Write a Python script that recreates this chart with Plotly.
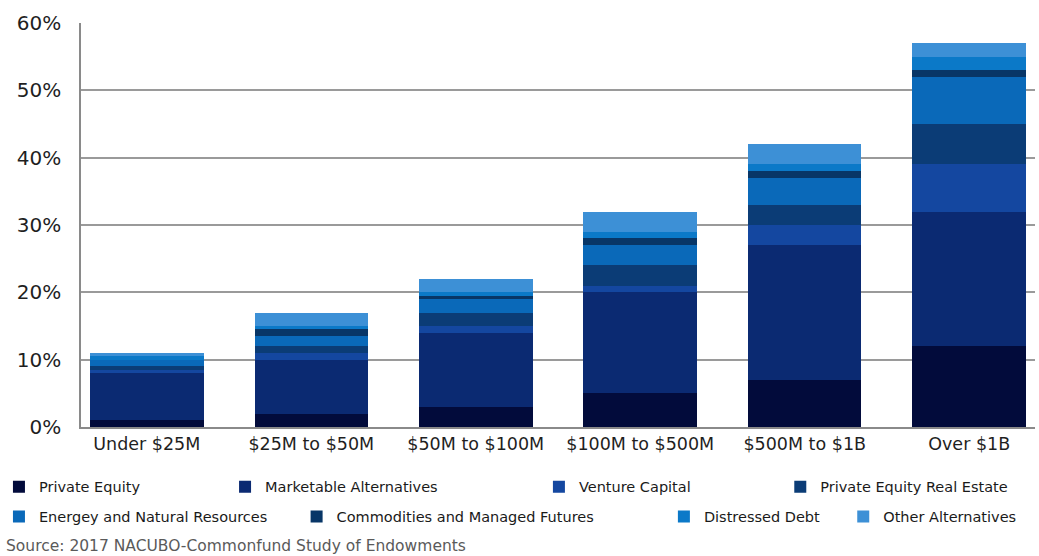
import plotly.graph_objects as go

# Endowment allocation to alternative strategies, by endowment size (percent of portfolio)
categories = ["Under $25M", "$25M to $50M", "$50M to $100M",
              "$100M to $500M", "$500M to $1B", "Over $1B"]

private_equity = [1, 2, 3, 5, 7, 12]
marketable_alternatives = [7, 8, 11, 15, 20, 20]
venture_capital = [0.5, 1, 1, 1, 3, 7]
private_equity_real_estate = [0.5, 1, 2, 3, 3, 6]
energy_natural_resources = [1, 1.5, 2, 3, 4, 7]
commodities_managed_futures = [0, 1, 0.5, 1, 1, 1]
distressed_debt = [0.5, 0.5, 0.5, 1, 1, 2]
other_alternatives = [0.5, 2, 2, 3, 3, 2]

series_names = ["Private Equity", "Marketable Alternatives", "Venture Capital",
                "Private Equity Real Estate", "Energey and Natural Resources",
                "Commodities and Managed Futures", "Distressed Debt",
                "Other Alternatives"]
series_values = [private_equity, marketable_alternatives, venture_capital,
                 private_equity_real_estate, energy_natural_resources,
                 commodities_managed_futures, distressed_debt, other_alternatives]

colors = ["#020b3b", "#0b2a72", "#1447a0", "#0b3c76",
          "#0a69b9", "#083667", "#0b79c8", "#3d90d6"]

# legend slot positions (paper coords) – two rows of four, spread across the width
ROW1, ROW2 = -0.148, -0.222
legend_pos = [(-0.086, ROW1), (0.151, ROW1), (0.480, ROW1), (0.733, ROW1),
              (-0.086, ROW2), (0.226, ROW2), (0.611, ROW2), (0.799, ROW2)]

FONT = "DejaVu Sans"
fig = go.Figure()
for i, (name, vals, col) in enumerate(zip(series_names, series_values, colors)):
    lg = "legend" if i == 0 else f"legend{i + 1}"
    fig.add_trace(go.Bar(
        x=list(range(len(categories))), y=vals, name=name,
        marker=dict(color=col, line=dict(width=0)),
        width=0.69, legend=lg,
    ))

layout_legends = {}
for i, (lx, ly) in enumerate(legend_pos):
    key = "legend" if i == 0 else f"legend{i + 1}"
    layout_legends[key] = dict(
        x=lx, y=ly, xanchor="left", yanchor="middle", orientation="h",
        font=dict(family=FONT, size=14.5, color="#1a1a1a"),
        bgcolor="rgba(0,0,0,0)", borderwidth=0, itemclick=False,
        itemdoubleclick=False, tracegroupgap=0,
    )

fig.update_layout(
    barmode="stack",
    width=1039, height=556,
    margin=dict(l=81, r=4, t=23, b=129, autoexpand=False),
    paper_bgcolor="white", plot_bgcolor="white",
    font=dict(family=FONT, color="#1a1a1a"),
    showlegend=True,
    **layout_legends,
)

fig.update_xaxes(
    tickmode="array", tickvals=list(range(len(categories))), ticktext=categories,
    range=[-0.4, 5.4], automargin=False,
    tickfont=dict(family=FONT, size=17.5, color="#1f1f1f"),
    showline=True, linecolor="#8a8a8a", linewidth=1.5,
    showgrid=False, ticks="", fixedrange=True,
)
fig.update_yaxes(
    range=[0, 60], dtick=10, ticksuffix="%", automargin=False,
    tickfont=dict(family=FONT, size=20, color="#1f1f1f"),
    showline=True, linecolor="#8a8a8a", linewidth=1.5,
    showgrid=True, gridcolor="#9a9a9a", gridwidth=1.5,
    zeroline=False, ticks="", ticklabelstandoff=14, fixedrange=True,
)

fig.add_annotation(
    text="Source: 2017 NACUBO-Commonfund Study of Endowments",
    xref="paper", yref="paper", x=-0.081, y=-0.295,
    xanchor="left", yanchor="middle", showarrow=False,
    font=dict(family=FONT, size=15.5, color="#5a5a5a"),
)

fig.write_html("out.html")
